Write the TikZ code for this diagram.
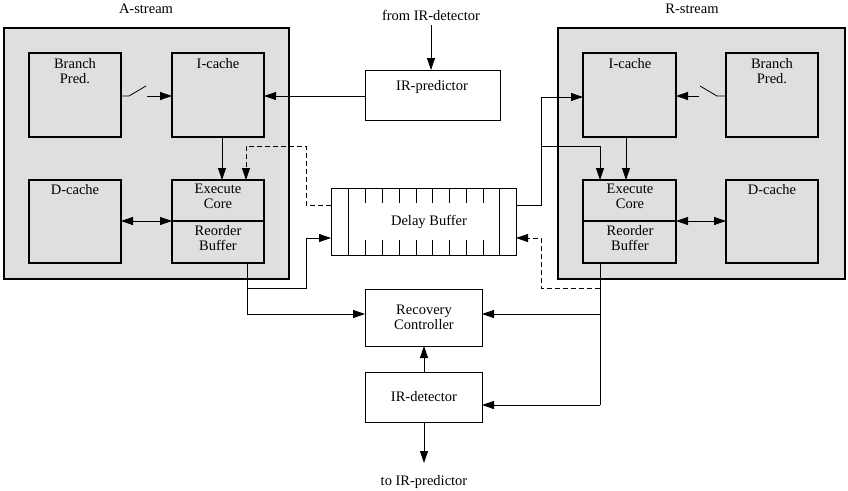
\documentclass[tikz,border=0pt]{standalone}
\usepackage{fontspec}
\setmainfont{Liberation Serif}
\usetikzlibrary{arrows.meta}
\begin{document}
\begin{tikzpicture}[x=1pt,y=-1pt,
  big/.style={draw,line width=1.3pt,fill=gray!25},
  blk/.style={draw,line width=1.2pt,fill=gray!25},
  wb/.style={draw,line width=0.8pt,fill=white},
  arr/.style={line width=0.8pt,-{Triangle[length=12pt,width=8pt]}},
  darr/.style={line width=0.8pt,{Triangle[length=12pt,width=8pt]}-{Triangle[length=12pt,width=8pt]}},
  ln/.style={line width=0.8pt},
  dsh/.style={line width=0.8pt,dash pattern=on 5pt off 3pt},
  lbl/.style={font=\fontsize{14.5}{16}\selectfont,align=center,anchor=north,inner sep=0pt}]
\useasboundingbox (0,0) rectangle (848,490);
\path[big] (4,28) rectangle (289,279);
\path[big] (558,28) rectangle (845,279);
% left blocks
\path[blk] (29,53) rectangle (121,137); \node[lbl] (bpa) at (75,58) {Branch\\[-1pt]Pred.};
\path[blk] (172,53) rectangle (264,137); \node[lbl] (ica) at (218,58) {I-cache};
\path[blk] (29,180) rectangle (121,263); \node[lbl] (dca) at (75,184) {D-cache};
\path[blk] (172,180) rectangle (264,263); \draw[line width=1.2pt] (172,221)--(264,221);
\node[lbl] (exa) at (218,184) {Execute\\[-1pt]Core};
\node[lbl] (roa) at (218,225) {Reorder\\[-1pt]Buffer};
% right blocks
\path[blk] (583,53) rectangle (676,137); \node[lbl] (icb) at (630,58) {I-cache};
\path[blk] (726,53) rectangle (818,137); \node[lbl] (bpb) at (772,58) {Branch\\[-1pt]Pred.};
\path[blk] (726,180) rectangle (818,263); \node[lbl] (dcb) at (772,184) {D-cache};
\path[blk] (583,180) rectangle (676,263); \draw[line width=1.2pt] (583,221)--(676,221);
\node[lbl] (exb) at (630,184) {Execute\\[-1pt]Core};
\node[lbl] (rob) at (630,225) {Reorder\\[-1pt]Buffer};
% middle
\path[wb] (365,70) rectangle (500,120); \node[lbl,anchor=center] (irp) at (432,87) {IR-predictor};
\path[wb] (331,188) rectangle (516,255); \node[lbl,anchor=center] (db) at (429,222) {Delay Buffer};
\draw[ln] (348,188)--(348,255) (499,188)--(499,255);
\foreach \x in {365,382,399,416,432,449,466,483}{\draw[ln] (\x,188)--(\x,203) (\x,240)--(\x,255);}
\path[wb] (365,289) rectangle (482,346); \node[lbl,anchor=center] (rc) at (424,317) {Recovery\\[-1pt]Controller};
\path[wb] (365,372) rectangle (482,422); \node[lbl,anchor=center] (ird) at (424,397) {IR-detector};
\node[lbl,anchor=center] (A) at (146,9) {A-stream};
\node[lbl,anchor=center] (R) at (692,9) {R-stream};
\node[lbl,anchor=center] (fr) at (431,15) {from IR-detector};
\node[lbl,anchor=center] (to) at (424,482) {to IR-predictor};
% connectors
\draw[arr] (431,25)--(431,70);
\draw[arr] (424,422)--(424,463);
\draw[arr] (424,372)--(424,346);
\draw[arr] (365,96)--(264,96);
\draw[ln] (121,96)--(129,96) (129,96)--(146,86);
\draw[arr] (147,96)--(172,96);
\draw[ln] (726,96)--(717,96) (717,96)--(700,86);
\draw[arr] (699,96)--(676,96);
\draw[arr] (222,137)--(222,180);
\draw[arr] (626,137)--(626,180);
\draw[dsh,-{Triangle[length=12pt,width=8pt]}] (331,205)--(306,205)--(306,146)--(246,146)--(246,180);
\draw[darr] (121,221)--(172,221);
\draw[darr] (676,221)--(726,221);
\draw[arr] (247,263)--(247,288)--(306,288)--(306,238)--(331,238);
\draw[arr] (247,288)--(247,314)--(365,314);
\draw[arr] (516,205)--(541,205)--(541,97)--(583,97);
\draw[arr] (541,146)--(600,146)--(600,180);
\draw[ln] (600,263)--(600,405);
\draw[dsh,-{Triangle[length=12pt,width=8pt]}] (600,288)--(541,288)--(541,238)--(516,238);
\draw[arr] (600,314)--(482,314);
\draw[arr] (600,405)--(482,405);
\end{tikzpicture}
\end{document}
